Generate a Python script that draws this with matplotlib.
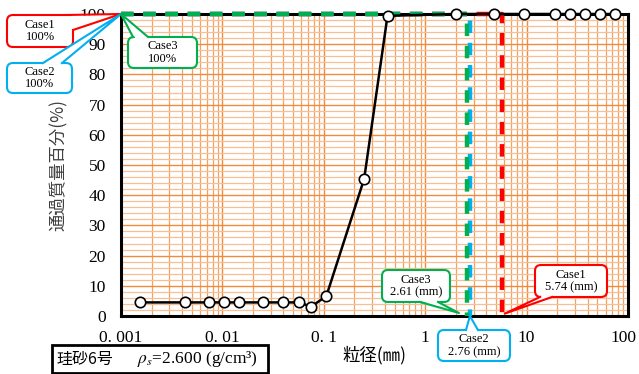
import matplotlib
matplotlib.use("Agg")
import matplotlib.pyplot as plt
from matplotlib.ticker import FixedLocator, MultipleLocator, NullFormatter
from matplotlib.patches import FancyBboxPatch, Polygon, Rectangle
from matplotlib.lines import Line2D
from matplotlib.transforms import IdentityTransform, ScaledTranslation

plt.rcParams['mathtext.fontset'] = 'stix'
plt.rcParams['lines.scale_dashes'] = False

W, H = 639, 374

# grain size (mm) and percent passing
d_mm = [0.00154, 0.00427, 0.00737, 0.0104, 0.0146, 0.0253, 0.0398, 0.0569,
        0.075, 0.106, 0.25, 0.425, 2.0, 4.75, 9.5, 19.0, 26.5, 37.5, 53.0, 75.0]
passing = [4.5, 4.5, 4.5, 4.5, 4.5, 4.5, 4.5, 4.5,
           3.1, 6.6, 45.4, 99.4, 100, 100, 100, 100, 100, 100, 100, 100]

# case lines (drawn red, blue, green)
case_names = ["Case1", "Case2", "Case3"]
case_d = [5.74, 2.76, 2.61]
case_pct = [100, 100, 100]
case_colors = ["#FF0000", "#00B0F0", "#00B050"]

xticks = [0.001, 0.01, 0.1, 1, 10, 100]
xtick_labels = ["0. 001", "0. 01", "0. 1", "1", "10", "100"]

serif = ["Liberation Serif", "Noto Sans CJK JP", "DejaVu Sans"]
cjk = ["Noto Sans CJK JP", "DejaVu Sans"]

fig = plt.figure(figsize=(W/100, H/100), dpi=100)
ax = fig.add_axes([121/W, 1-316/H, (628-121)/W, (316-14)/H])

ax.set_xscale("log")
ax.set_xlim(0.001, 100)
ax.set_ylim(0, 100)

ax.xaxis.set_major_locator(FixedLocator(xticks))
ax.xaxis.set_minor_locator(FixedLocator(
    [m * 10.0**e for e in range(-3, 2) for m in range(2, 10)]))
ax.xaxis.set_minor_formatter(NullFormatter())
ax.set_xticklabels(xtick_labels, fontfamily=serif, fontsize=12.5)
ax.yaxis.set_major_locator(MultipleLocator(10))
ax.yaxis.set_minor_locator(MultipleLocator(2))
for lab in ax.get_yticklabels():
    lab.set_fontfamily(serif)
    lab.set_fontsize(12.5)
ax.tick_params(which="both", length=0)
ax.tick_params(axis="x", pad=10)
ax.tick_params(axis="y", pad=11)
last = ax.get_xticklabels()[-1]
last.set_transform(last.get_transform() + ScaledTranslation(-3/72, 0, fig.dpi_scale_trans))

ax.grid(True, which="major", axis="both", color="#F28A3C", lw=1.0)
ax.grid(True, which="minor", axis="x", color="#F4A263", lw=0.9)
ax.grid(True, which="minor", axis="y", color="#F8BF94", lw=0.9)
ax.set_axisbelow(True)
for s in ax.spines.values():
    s.set_linewidth(2.2)
    s.set_color("black")

# case lines
for d, p, c in zip(case_d, case_pct, case_colors):
    ax.plot([0.001, d, d], [p, p, 0], color=c, lw=3.2,
            dashes=(9, 7), zorder=3, clip_on=False)

ax.plot(d_mm, passing, color="black", lw=1.8, marker="o", ms=7.5,
        mfc="white", mec="black", mew=1.2, zorder=4, clip_on=False)

ax.set_xlabel("粒径(㎜)", fontfamily=cjk, fontsize=12.5, labelpad=0)
ax.set_ylabel("通過質量百分(%)", fontfamily=cjk, fontsize=12.5, color="#404040")
ax.yaxis.set_label_coords((68-121)/(628-121), 0.5)

ident = IdentityTransform()


def px(x, y):
    # image pixel (top-left origin) -> display pixel
    return (x, H - y)


def callout(txt, box, base, tip, color):
    x0, y0, x1, y1 = box
    fig.add_artist(FancyBboxPatch(px(x0, y1), x1-x0, y1-y0,
                                  boxstyle="round,pad=0,rounding_size=6",
                                  fc="white", ec=color, lw=1.5,
                                  transform=ident, zorder=5))
    t = ax.transData.transform(tip)
    b1, b2 = px(*base[0]), px(*base[1])
    cx, cy = (x0+x1)/2, H-(y0+y1)/2
    # push base slightly inside the box so the border opens
    ins = [(b[0] + (cx-b[0])*0.08, b[1] + (cy-b[1])*0.08) for b in (b1, b2)]
    fig.add_artist(Polygon([ins[0], t, ins[1]], closed=True, fc="white",
                           ec="none", transform=ident, zorder=6))
    fig.add_artist(Line2D([b1[0], t[0], b2[0]], [b1[1], t[1], b2[1]],
                          color=color, lw=1.5, transform=ident, zorder=6))
    fig.text(cx, cy, txt, transform=ident, fontfamily=serif, fontsize=9,
             ha="center", va="center", linespacing=1.1, zorder=7)


callout("Case1\n100%", (7, 15, 73, 47), ((66, 15), (73, 30)), (0.001, 100), case_colors[0])
callout("Case2\n100%", (7, 63, 72, 93), ((43, 63), (62, 63)), (0.001, 100), case_colors[1])
callout("Case3\n100%", (128, 37, 197, 68), ((133, 37), (148, 37)), (0.001, 100), case_colors[2])
callout("Case3\n2.61 (mm)", (382, 270, 450, 302), ((420, 302), (438, 302)), (2.15, 1), case_colors[2])
callout("Case2\n2.76 (mm)", (438, 330, 510, 361), ((466, 330), (478, 330)), (2.76, 0), case_colors[1])
callout("Case1\n5.74 (mm)", (535, 265, 607, 297), ((540, 297), (552, 297)), (6.1, 0.8), case_colors[0])

# material info box
fig.add_artist(Rectangle(px(52, 373), 216, 28, fc="white", ec="black", lw=2,
                         transform=ident, zorder=5))
fig.text(56, H-359, "珪砂6号", transform=ident, fontfamily=cjk, fontsize=11.5,
         ha="left", va="center", zorder=7)
fig.text(137, H-359, "$\\rho_s$=2.600 (g/cm³)", transform=ident, fontfamily=serif,
         fontsize=12.5, ha="left", va="center", zorder=7)

fig.savefig("out.png", dpi=100)
